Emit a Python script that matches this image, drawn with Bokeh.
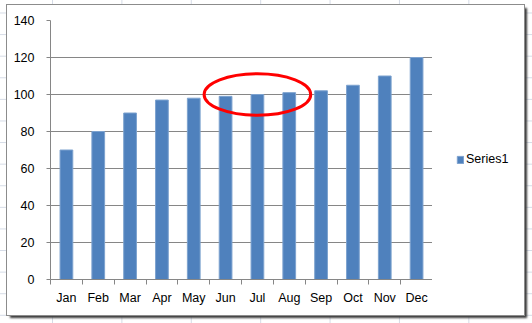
from bokeh.plotting import figure
from bokeh.layouts import column, row
from bokeh.models import (FactorRange, Range1d, LinearAxis, FixedTicker,
                          Legend, LegendItem, ColumnDataSource)
from bokeh.embed import file_html
from bokeh.resources import INLINE

# ---- data ----
months = ["Jan", "Feb", "Mar", "Apr", "May", "Jun", "Jul", "Aug", "Sep", "Oct", "Nov", "Dec"]
values = [70, 80, 90, 97, 98, 99, 100, 101, 102, 105, 110, 120]
y_ticks = [0, 20, 40, 60, 80, 100, 120, 140]
series_name = "Series1"
highlight_month = "Jul"
highlight_value = 100

FONT = "Liberation Sans"
AXIS_GRAY = "#868686"
BAR_FILL = "#4F81BD"
BAR_EDGE = "#7DA2CF"

p = figure(width=425, height=310,
           x_range=FactorRange(factors=months, range_padding=0, factor_padding=0),
           y_range=Range1d(0, 140),
           x_axis_type=None, toolbar_location=None, output_backend="svg",
           min_border_left=43, min_border_right=0, min_border_top=15, min_border_bottom=36)
p.border_fill_color = "white"
p.background_fill_color = "white"
p.outline_line_color = None

# ---- axes ----
yaxis = p.yaxis[0]
yaxis.ticker = FixedTicker(ticks=y_ticks)
yaxis.axis_line_color = AXIS_GRAY
yaxis.major_tick_line_color = AXIS_GRAY
yaxis.major_tick_out = 4
yaxis.major_tick_in = 0
yaxis.minor_tick_line_color = None
yaxis.major_label_standoff = 12
yaxis.major_label_text_font = FONT
yaxis.major_label_text_font_size = "12.5px"
yaxis.major_label_text_color = "black"

centers = [i + 0.5 for i in range(len(months))]
bounds = [i for i in range(len(months) + 1)]
xaxis = LinearAxis(ticker=FixedTicker(ticks=centers, minor_ticks=bounds),
                   major_label_overrides={c: m for c, m in zip(centers, months)})
xaxis.axis_line_color = AXIS_GRAY
xaxis.major_tick_line_color = None
xaxis.major_tick_out = 0
xaxis.major_tick_in = 0
xaxis.minor_tick_line_color = AXIS_GRAY
xaxis.minor_tick_out = 5
xaxis.minor_tick_in = 0
xaxis.major_label_standoff = 6
xaxis.major_label_text_font = FONT
xaxis.major_label_text_font_size = "12.5px"
xaxis.major_label_text_color = "black"
p.add_layout(xaxis, "below")

p.ygrid.ticker = FixedTicker(ticks=y_ticks)
p.ygrid.grid_line_color = AXIS_GRAY
p.xgrid.grid_line_color = None

# ---- bars ----
src = ColumnDataSource(dict(month=months, value=values))
bars = p.vbar(x="month", top="value", width=0.4, source=src,
              fill_color=BAR_FILL, line_color=BAR_EDGE, line_width=1)

# ---- highlight ellipse ----
p.ellipse(x=[highlight_month], y=[highlight_value], width=3.35, height=22.5,
          fill_color=None, line_color="#FF0000", line_width=3)

# ---- legend panel ----
pl = figure(width=92, height=310, x_range=Range1d(0, 1), y_range=Range1d(0, 1),
            x_axis_type=None, y_axis_type=None, toolbar_location=None,
            output_backend="svg", min_border=0)
pl.border_fill_color = "white"
pl.background_fill_color = "white"
pl.outline_line_color = None
pl.grid.visible = False
# legend key: one off-screen bar sharing the series style
key = pl.vbar(x=[5], top=[5], bottom=[4], width=0.4, fill_color=BAR_FILL, line_color=BAR_EDGE)
legend = Legend(items=[LegendItem(label=series_name, renderers=[key])],
                location=(24, 113), orientation="vertical",
                padding=0, margin=0, spacing=0,
                glyph_width=8, glyph_height=9, label_standoff=2,
                label_height=12, label_text_font=FONT, label_text_font_size="12.5px",
                label_text_color="black",
                border_line_color=None, background_fill_color=None)
pl.add_layout(legend, "center")

chart = row(p, pl, spacing=0, width=517, height=310, margin=(5, 8, 8, 7),
            styles={"box-shadow": "0 0 0 1px #8C8C8C, 3px 3px 2px #3a3a3a",
                    "background-color": "white"})

grid_css = ("linear-gradient(to right, #D5DBE6 1px, transparent 1px), "
            "linear-gradient(to bottom, #D5DBE6 1px, transparent 1px)")
page = column(chart, width=532, height=323, spacing=0,
              styles={"background-color": "white",
                      "background-image": grid_css,
                      "background-size": "69.4px 21.6px",
                      "background-position": "52px 12.5px"})

open("out.html", "w").write(file_html(page, INLINE))
